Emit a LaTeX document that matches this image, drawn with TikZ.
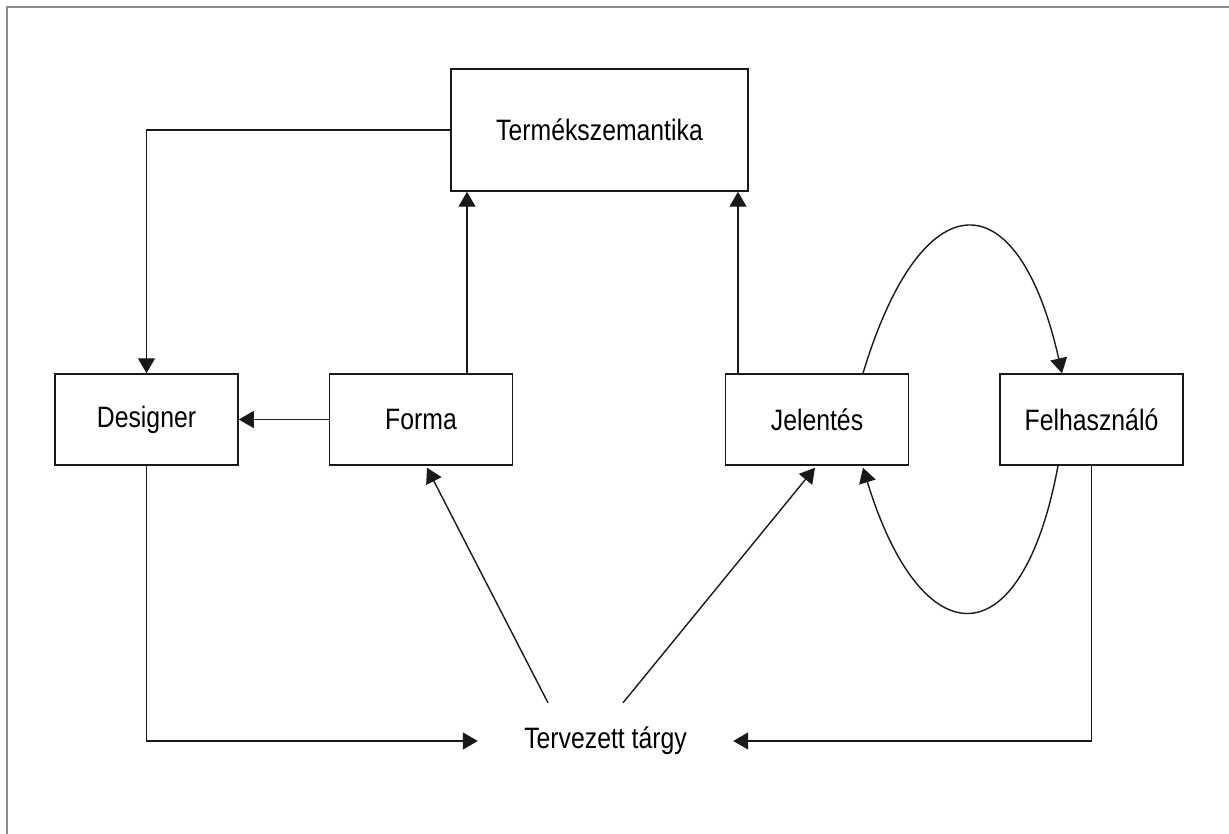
\documentclass[tikz,border=0pt]{standalone}
\usepackage{fontspec}
\setmainfont[FakeStretch=0.84]{Liberation Sans}
\usetikzlibrary{arrows.meta}
\begin{document}
\begin{tikzpicture}[x=1pt,y=-1pt,
  box/.style={draw=black!90, line width=1.5pt, minimum width=183pt, minimum height=91pt,
              inner sep=0pt, font=\fontsize{29.5}{34}\selectfont, text=black},
  link/.style={draw=black!90, line width=1.4pt,
               -{Triangle[length=15pt,width=17pt]}},
  frameline/.style={draw=black!45, line width=2pt}]
  \useasboundingbox (0,0) rectangle (1229,834);
  % page frame (top and left edges only)
  \draw[frameline] (7,834) -- (7,7) -- (1229,7);

  % boxes
  \node[box, minimum width=297pt, minimum height=122pt] (termek) at (599.5,130) {Termékszemantika};
  \node[box] (designer) at (146.5,419.5) {Designer};
  \node[box] (forma)    at (421,419.5)   {Forma};
  \node[box] (jel)      at (817,419.5)   {Jelentés};
  \node[box] (felh)     at (1091.5,419.5){Felhasználó};
  \node[font=\fontsize{29.5}{34}\selectfont, text=black, minimum width=255pt,
        minimum height=76pt, inner sep=0pt] (tt) at (605.5,741) {Tervezett tárgy};

  % connectors
  \draw[link] (termek.west) -| (designer.north);
  \draw[link] (forma.west) -- (designer.east);
  \draw[link] ([xshift=46pt]forma.north) -- ([xshift=46pt]forma.north |- termek.south);
  \draw[link] ([xshift=-79pt]jel.north) -- ([xshift=-79pt]jel.north |- termek.south);
  \draw[link] (designer.south) |- (tt.west);
  \draw[link] (felh.south) |- (tt.east);
  \draw[link] ([xshift=-57.5pt]tt.north) -- ([xshift=6pt,yshift=-2pt]forma.south);
  \draw[link] ([xshift=17.5pt]tt.north) -- ([xshift=-2pt,yshift=-2pt]jel.south);

  % loop between Jelentés and Felhasználó
  \draw[link] ([xshift=46pt]jel.north) .. controls (922,178) and (1018,178) .. ([xshift=-29.5pt]felh.north);
  \draw[link] ([xshift=-33.5pt]felh.south) .. controls (1022,660) and (922,660) .. ([xshift=46pt,yshift=-2pt]jel.south);
\end{tikzpicture}
\end{document}
